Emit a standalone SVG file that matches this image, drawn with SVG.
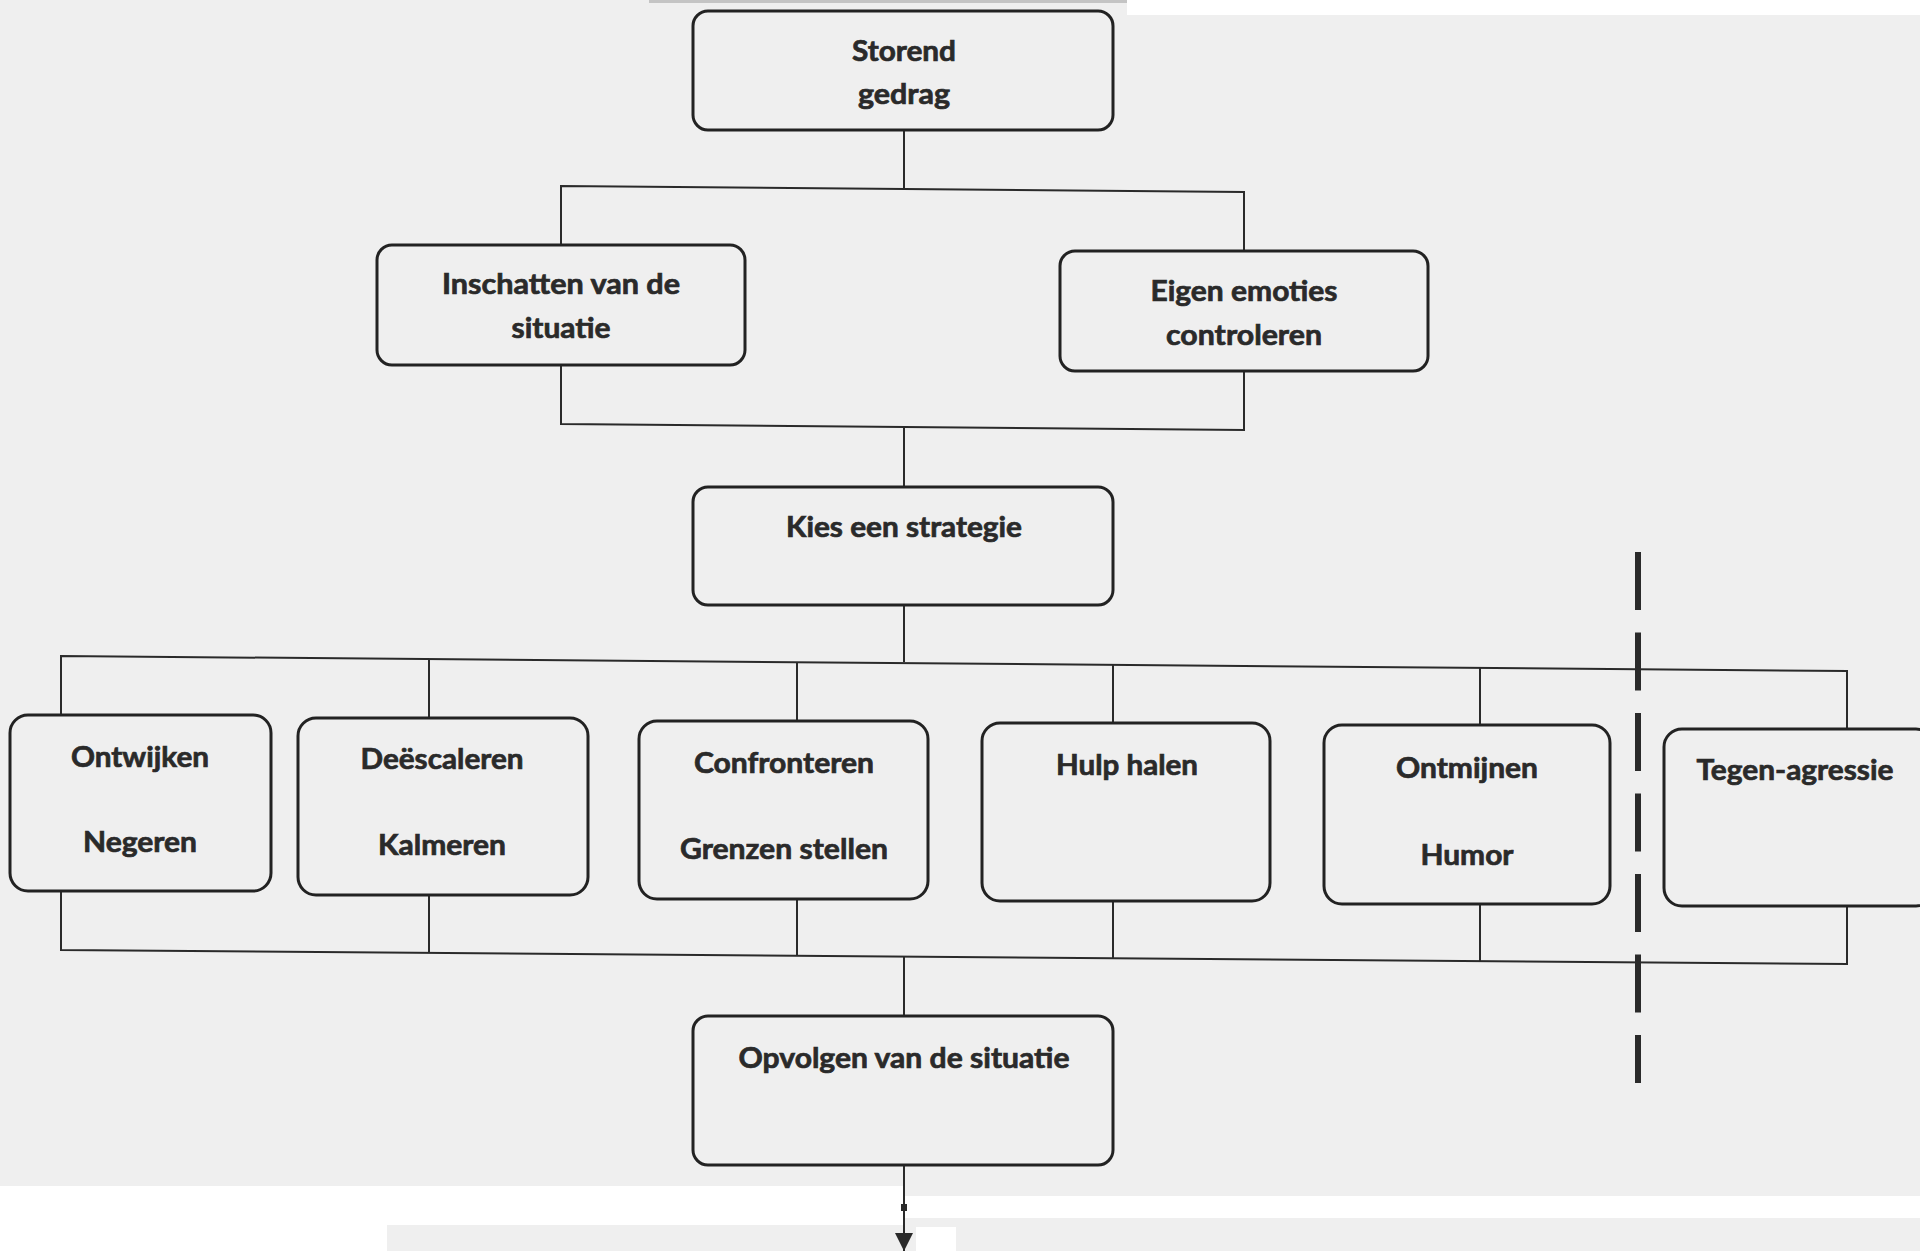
<svg xmlns="http://www.w3.org/2000/svg" width="1920" height="1251" viewBox="0 0 1920 1251">
<defs>
<style>
.bg{fill:#efefef}
.wh{fill:#ffffff}
.box{fill:#efefef;stroke:#222;stroke-width:3}
.t{font-family:Lato,"Open Sans","Liberation Sans",sans-serif;font-weight:bold;font-size:29px;fill:#2a2a2a;stroke:#2a2a2a;stroke-width:0.7;text-anchor:middle}
.c{fill:none;stroke:#2a2a2a;stroke-width:2}
.dash{fill:none;stroke:#2a2a2a;stroke-width:6;stroke-dasharray:58 22.5}
</style>
<marker id="ah" viewBox="0 0 10 10" refX="10" refY="5" markerWidth="18" markerHeight="18" markerUnits="userSpaceOnUse" orient="auto">
<path d="M0,0 L10,5 L0,10 z" fill="#2a2a2a"/>
</marker>
</defs>
<rect class="bg" x="0" y="0" width="1920" height="1251"/>
<rect class="wh" x="1127" y="0" width="793" height="15"/>
<rect x="649" y="0" width="478" height="3" fill="#c4c4c4"/>
<rect class="wh" x="0" y="1186" width="904" height="39"/>
<rect class="wh" x="0" y="1225" width="387" height="26"/>
<rect class="wh" x="904" y="1196" width="1016" height="22"/>
<rect class="wh" x="916" y="1227" width="40" height="24"/>

<g id="connectors">
<line class="c" x1="904" y1="130" x2="904" y2="188"/>
<polyline class="c" points="561,245 561,186 1244,192 1244,252"/>
<polyline class="c" points="561,365 561,424 1244,430 1244,371"/>
<line class="c" x1="904" y1="427" x2="904" y2="487"/>
<line class="c" x1="904" y1="605" x2="904" y2="662"/>
<polyline class="c" points="61,715 61,656 1847,671 1847,731"/>
<line class="c" x1="429" y1="659" x2="429" y2="718"/>
<line class="c" x1="797" y1="662" x2="797" y2="721"/>
<line class="c" x1="1113" y1="665" x2="1113" y2="724"/>
<line class="c" x1="1480" y1="668" x2="1480" y2="726"/>
<polyline class="c" points="61,891 61,950 1847,964 1847,906"/>
<line class="c" x1="429" y1="895" x2="429" y2="953"/>
<line class="c" x1="797" y1="899" x2="797" y2="956"/>
<line class="c" x1="1113" y1="901" x2="1113" y2="958"/>
<line class="c" x1="1480" y1="904" x2="1480" y2="961"/>
<line class="c" x1="904" y1="957" x2="904" y2="1016"/>
<line class="c" x1="904" y1="1165" x2="904" y2="1251" marker-end="url(#ah)"/>
<rect x="901" y="1204" width="6" height="7" fill="#2a2a2a"/>
<line class="dash" x1="1638" y1="552" x2="1638" y2="1083"/>
</g>

<g id="n-storend">
<rect class="box" x="693" y="11" width="420" height="119" rx="15"/>
<text class="t" x="904" y="61" textLength="104" lengthAdjust="spacingAndGlyphs">Storend</text>
<text class="t" x="904" y="104" textLength="92" lengthAdjust="spacingAndGlyphs">gedrag</text>
</g>
<g id="n-inschatten">
<rect class="box" x="377" y="245" width="368" height="120" rx="15"/>
<text class="t" x="561" y="294" textLength="238" lengthAdjust="spacingAndGlyphs">Inschatten van de</text>
<text class="t" x="561" y="338" textLength="99" lengthAdjust="spacingAndGlyphs">situatie</text>
</g>
<g id="n-eigen">
<rect class="box" x="1060" y="251" width="368" height="120" rx="15"/>
<text class="t" x="1244" y="301" textLength="187" lengthAdjust="spacingAndGlyphs">Eigen emoties</text>
<text class="t" x="1244" y="345" textLength="156" lengthAdjust="spacingAndGlyphs">controleren</text>
</g>
<g id="n-kies">
<rect class="box" x="693" y="487" width="420" height="118" rx="15"/>
<text class="t" x="904" y="537" textLength="236" lengthAdjust="spacingAndGlyphs">Kies een strategie</text>
</g>
<g id="n-ontwijken">
<rect class="box" x="10" y="715" width="261" height="176" rx="18"/>
<text class="t" x="140" y="767" textLength="138" lengthAdjust="spacingAndGlyphs">Ontwijken</text>
<text class="t" x="140" y="852" textLength="114" lengthAdjust="spacingAndGlyphs">Negeren</text>
</g>
<g id="n-deescaleren">
<rect class="box" x="298" y="718" width="290" height="177" rx="18"/>
<text class="t" x="442" y="769" textLength="163" lengthAdjust="spacingAndGlyphs">Deëscaleren</text>
<text class="t" x="442" y="855" textLength="128" lengthAdjust="spacingAndGlyphs">Kalmeren</text>
</g>
<g id="n-confronteren">
<rect class="box" x="639" y="721" width="289" height="178" rx="18"/>
<text class="t" x="784" y="773" textLength="180" lengthAdjust="spacingAndGlyphs">Confronteren</text>
<text class="t" x="784" y="859" textLength="208" lengthAdjust="spacingAndGlyphs">Grenzen stellen</text>
</g>
<g id="n-hulp">
<rect class="box" x="982" y="723" width="288" height="178" rx="18"/>
<text class="t" x="1127" y="775" textLength="142" lengthAdjust="spacingAndGlyphs">Hulp halen</text>
</g>
<g id="n-ontmijnen">
<rect class="box" x="1324" y="725" width="286" height="179" rx="18"/>
<text class="t" x="1467" y="778" textLength="142" lengthAdjust="spacingAndGlyphs">Ontmijnen</text>
<text class="t" x="1467" y="865" textLength="93" lengthAdjust="spacingAndGlyphs">Humor</text>
</g>
<g id="n-tegen">
<rect class="box" x="1664" y="729" width="270" height="177" rx="18"/>
<text class="t" x="1795" y="780" textLength="197" lengthAdjust="spacingAndGlyphs">Tegen-agressie</text>
</g>
<g id="n-opvolgen">
<rect class="box" x="693" y="1016" width="420" height="149" rx="15"/>
<text class="t" x="904" y="1068" textLength="331" lengthAdjust="spacingAndGlyphs">Opvolgen van de situatie</text>
</g>
</svg>
